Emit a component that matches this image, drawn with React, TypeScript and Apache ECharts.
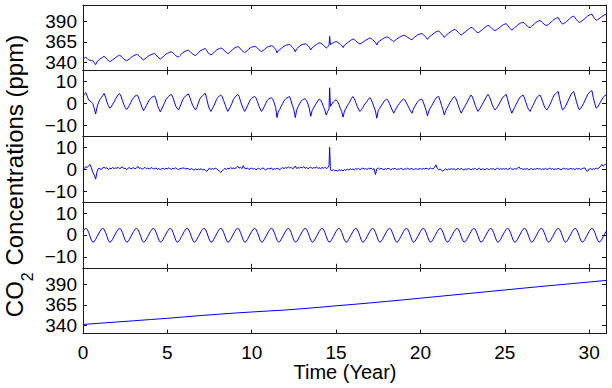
import React, { useEffect, useRef } from "react";
import * as echarts from "echarts";

// ---- data (monthly samples, 12 per year, x = years since start) ----
const samplesPerYear = 12;
const xTicks = [0, 5, 10, 15, 20, 25, 30];
const ppmTicks = [340, 365, 390];
const anomalyTicks = [-10, 0, 10];

const rawCO2 = [
  344.0, 345.5, 346.3, 344.8, 343.1, 342.8, 342.4, 341.9, 339.8, 337.3, 340.7, 342.8,
  344.3, 345.2, 346.4, 347.5, 346.0, 343.9, 342.4, 341.3, 341.9, 343.2, 344.4, 345.8,
  347.0, 348.1, 348.9, 347.8, 346.0, 344.2, 343.0, 342.2, 343.1, 344.3, 345.8, 347.2,
  348.1, 349.0, 349.6, 349.5, 347.9, 346.1, 344.5, 343.1, 344.3, 345.6, 347.1, 348.4,
  349.2, 350.0, 350.5, 350.9, 349.3, 346.8, 345.4, 344.1, 345.5, 347.0, 348.7, 350.2,
  351.1, 351.9, 352.7, 353.0, 351.7, 349.9, 348.2, 347.2, 346.7, 348.4, 350.1, 352.0,
  353.0, 353.8, 354.5, 355.0, 353.6, 351.8, 350.3, 349.2, 348.4, 349.7, 351.7, 353.8,
  354.8, 355.6, 356.4, 357.0, 354.6, 351.9, 350.1, 349.2, 350.5, 351.8, 353.5, 355.2,
  356.2, 357.0, 357.6, 356.9, 355.3, 353.6, 352.1, 350.7, 351.9, 353.3, 354.9, 356.7,
  357.7, 358.6, 359.3, 358.5, 356.5, 354.7, 353.3, 352.1, 353.4, 354.9, 356.4, 357.9,
  358.6, 359.2, 359.6, 359.2, 357.6, 355.8, 354.4, 353.3, 354.4, 355.8, 357.3, 358.7,
  359.4, 359.9, 360.3, 359.7, 358.2, 356.1, 351.6, 354.7, 355.6, 357.1, 358.4, 359.9,
  360.6, 361.3, 361.8, 362.2, 360.3, 358.3, 356.6, 353.1, 356.7, 358.4, 359.7, 361.1,
  361.8, 362.3, 362.7, 362.0, 360.6, 358.5, 355.3, 358.0, 359.3, 360.6, 361.8, 363.0,
  363.9, 363.7, 362.6, 361.0, 359.5, 357.5, 359.2, 360.6, 361.8, 363.1, 364.1, 364.9,
  365.4, 364.8, 363.6, 361.9, 360.7, 358.2, 361.2, 362.5, 363.8, 365.0, 366.3, 367.7,
  368.6, 367.8, 366.3, 364.7, 363.4, 362.6, 363.5, 364.7, 365.9, 367.0, 367.9, 369.0,
  369.9, 369.2, 367.7, 366.1, 364.4, 361.3, 365.0, 366.1, 367.4, 368.4, 369.6, 370.5,
  371.1, 370.7, 369.4, 368.0, 366.7, 365.5, 366.9, 368.2, 369.5, 370.5, 371.6, 372.4,
  373.1, 372.8, 371.7, 370.6, 369.5, 368.4, 367.6, 369.6, 371.1, 372.3, 373.5, 374.3,
  374.8, 375.2, 374.1, 372.3, 370.7, 368.2, 370.6, 372.1, 373.3, 374.7, 376.0, 377.2,
  378.0, 378.4, 376.7, 374.7, 372.9, 370.6, 372.8, 374.2, 375.5, 376.9, 378.1, 379.2,
  380.2, 379.8, 378.3, 376.5, 374.9, 373.4, 374.8, 376.2, 377.5, 378.9, 380.3, 381.6,
  382.9, 382.2, 380.5, 378.7, 377.3, 376.2, 377.4, 378.6, 379.9, 381.3, 382.7, 383.9,
  385.2, 384.4, 382.9, 381.1, 379.9, 378.9, 379.7, 380.9, 382.1, 383.5, 384.8, 386.0,
  386.6, 387.4, 385.3, 382.9, 381.1, 379.4, 381.0, 382.4, 383.8, 385.3, 386.7, 387.8,
  388.4, 389.1, 387.9, 386.1, 384.3, 383.0, 382.4, 384.0, 385.4, 386.9, 388.5, 389.7,
  390.5, 391.1, 389.9, 388.3, 386.6, 385.5, 385.1, 386.2, 387.7, 389.2, 390.9, 392.5,
  393.3, 394.1, 394.7, 391.6, 388.9, 386.8, 387.5, 388.6, 390.0, 391.5, 393.1, 394.6,
  395.8, 396.5, 394.5, 392.1, 390.2, 388.7, 389.6, 390.7, 392.1, 393.6, 395.2, 396.7,
  397.7, 398.5, 398.9, 395.8, 393.3, 391.4, 392.1, 393.2, 394.6, 395.9, 397.1, 398.0,
  398.5,
];

const detrended = [
  3.0, 4.4, 5.0, 3.4, 1.6, 1.2, 0.6, 0.0, -2.2, -4.8, -1.6, 0.4,
  1.8, 2.6, 3.6, 4.6, 3.0, 0.8, -0.9, -2.1, -1.6, -0.4, 0.6, 1.9,
  3.0, 4.0, 4.6, 3.4, 1.5, -0.4, -1.8, -2.7, -1.9, -0.8, 0.5, 1.8,
  2.6, 3.4, 3.8, 3.6, 1.9, 0.0, -1.8, -3.3, -2.2, -1.0, 0.3, 1.5,
  2.2, 2.9, 3.2, 3.5, 1.8, -0.8, -2.4, -3.8, -2.5, -1.1, 0.4, 1.8,
  2.6, 3.3, 3.9, 4.1, 2.6, 0.7, -1.2, -2.3, -2.9, -1.4, 0.2, 1.9,
  2.8, 3.5, 4.0, 4.4, 2.8, 0.9, -0.8, -2.0, -2.9, -1.8, 0.1, 2.0,
  2.9, 3.6, 4.2, 4.7, 2.2, -0.6, -2.6, -3.6, -2.4, -1.2, 0.3, 1.9,
  2.8, 3.5, 3.9, 3.1, 1.4, -0.4, -2.1, -3.6, -2.5, -1.2, 0.2, 1.9,
  2.8, 3.6, 4.2, 3.3, 1.2, -0.7, -2.3, -3.6, -2.4, -1.0, 0.4, 1.8,
  2.4, 2.9, 3.2, 2.7, 1.0, -0.9, -2.4, -3.6, -2.6, -1.3, 0.1, 1.4,
  2.0, 2.4, 2.7, 2.0, 0.4, -1.8, -6.4, -3.4, -2.6, -1.2, 0.0, 1.4,
  2.0, 2.6, 2.9, 3.2, 1.2, -1.0, -2.8, -6.4, -3.0, -1.4, -0.2, 1.0,
  1.6, 2.0, 2.2, 1.4, -0.2, -2.4, -5.8, -3.2, -2.0, -0.9, 0.2, 1.2,
  2.0, 1.6, 0.4, -1.4, -3.0, -5.2, -3.6, -2.4, -1.3, -0.2, 0.7, 1.3,
  1.7, 1.0, -0.4, -2.2, -3.6, -6.2, -3.4, -2.2, -1.0, 0.0, 1.2, 2.4,
  3.2, 2.2, 0.6, -1.2, -2.6, -3.6, -2.8, -1.8, -0.7, 0.2, 1.0, 1.9,
  2.7, 1.8, 0.2, -1.6, -3.4, -6.7, -3.2, -2.2, -1.1, -0.2, 0.8, 1.6,
  2.0, 1.4, 0.0, -1.6, -3.0, -4.4, -3.2, -2.0, -0.9, 0.0, 0.9, 1.6,
  2.1, 1.6, 0.4, -0.9, -2.2, -3.4, -4.4, -2.6, -1.2, -0.2, 0.8, 1.5,
  1.8, 2.0, 0.8, -1.2, -3.0, -5.6, -3.4, -2.1, -1.0, 0.2, 1.3, 2.4,
  3.0, 3.2, 1.4, -0.8, -2.8, -5.2, -3.2, -2.0, -0.8, 0.4, 1.4, 2.4,
  3.2, 2.6, 1.0, -1.0, -2.8, -4.4, -3.2, -2.0, -0.8, 0.4, 1.6, 2.8,
  3.9, 3.0, 1.2, -0.8, -2.4, -3.6, -2.6, -1.6, -0.4, 0.8, 2.0, 3.1,
  4.2, 3.2, 1.6, -0.4, -1.8, -2.9, -2.3, -1.3, -0.2, 1.0, 2.1, 3.2,
  3.6, 4.2, 2.0, -0.6, -2.6, -4.4, -3.0, -1.8, -0.5, 0.8, 2.0, 3.0,
  3.4, 3.9, 2.6, 0.6, -1.4, -2.8, -3.6, -2.2, -0.9, 0.4, 1.8, 2.9,
  3.5, 3.9, 2.6, 0.8, -1.0, -2.3, -2.9, -1.9, -0.6, 0.8, 2.3, 3.8,
  4.4, 5.0, 5.5, 2.2, -0.6, -2.9, -2.4, -1.4, -0.2, 1.2, 2.6, 4.0,
  5.0, 5.5, 3.4, 0.8, -1.2, -2.9, -2.2, -1.2, 0.0, 1.4, 2.8, 4.2,
  5.0, 5.6, 5.9, 2.6, 0.0, -2.1, -1.6, -0.6, 0.6, 1.8, 2.8, 3.6,
  3.9,
];

const residual = [
  -0.6, 0.4, 1.2, 0.8, 1.6, 2.2, 0.6, -1.4, -2.6, -4.5, -1.2, 0.4,
  0.3, -0.2, 0.6, 0.9, 0.4, 0.7, -0.1, 0.5, 0.2, 0.8, 0.3, 0.6,
  0.4, 0.9, 0.2, 0.6, 1.1, 0.3, 0.5, -0.2, 0.4, 0.8, 0.1, 0.5,
  0.7, 0.2, 0.5, 1.3, 0.4, 0.6, 0.0, 0.3, 0.9, 0.2, 0.5, 0.1,
  0.4, 0.8, 0.1, 0.3, 0.6, -0.1, 0.4, -0.3, 0.2, 0.5, 0.0, 0.4,
  0.2, 0.6, 0.3, -0.1, 0.5, 0.2, 0.7, 0.1, -0.2, 0.4, 0.3, 0.6,
  0.5, 0.1, 0.4, 0.2, -0.2, 0.3, 0.0, -0.4, 0.2, -0.3, 0.1, -0.2,
  0.3, -0.4, 0.1, -0.6, -0.9, -0.3, 0.6, -0.2, 0.4, 0.0, 0.5, 0.2,
  -0.3, -0.9, -1.5, -0.6, -0.2, 0.4, -0.1, 0.5, 0.1, 0.8, 0.3, 0.6,
  0.2, 0.7, 1.4, 0.5, 0.9, 0.3, 1.6, 0.4, 0.2, 0.6, -0.1, 0.3,
  0.5, 0.0, 0.4, -0.3, 0.2, 0.5, -0.2, 0.3, 0.6, 0.1, -0.3, 0.2,
  0.4, 0.1, 0.6, -0.2, 0.3, 0.0, 0.5, 0.2, -0.2, 0.4, 0.7, 0.3,
  0.8, 0.4, 1.1, 0.5, 0.9, 0.2, 0.6, 1.5, 0.3, 0.8, 0.5, 1.0,
  0.6, 1.2, 0.4, 0.9, 0.2, 0.7, 1.0, 0.3, 0.8, 0.5, 1.1, 0.4,
  0.7, 0.2, 0.9, 0.4, 1.0, 0.3, 0.6, 1.8, -0.3, -0.6, -0.2, -0.7,
  -0.4, -0.9, -0.2, -0.6, -0.3, -0.8, -0.1, -0.5, 0.0, -0.3, 0.2, -0.1,
  0.1, -0.3, 0.3, 0.0, 0.4, -0.2, 0.2, 0.5, 0.1, 0.3, -0.1, 0.4,
  0.2, 0.5, -0.1, 0.3, -2.4, 0.2, 0.6, 0.0, 0.4, 0.1, -0.2, 0.3,
  0.0, 0.4, 0.2, -0.3, 0.3, 0.1, 0.5, -0.2, 0.2, 0.0, 0.4, 0.1,
  -0.2, 0.3, 0.0, 0.5, -0.1, 0.2, 0.4, -0.3, 0.1, 0.3, -0.2, 0.2,
  0.3, -0.1, 0.4, 0.1, 0.5, 0.2, 0.0, 0.6, 0.3, 0.2, 0.8, 2.0,
  0.4, -0.2, 0.1, -0.5, -0.9, -0.2, 0.2, -0.4, 0.1, -0.1, 0.3, 0.0,
  0.2, -0.3, 0.1, 0.3, -0.2, 0.4, 0.0, -0.4, 0.2, -0.1, 0.3, 0.1,
  -0.3, 0.2, 0.0, 0.4, -0.2, 0.1, 0.5, -0.3, 0.2, 0.0, -0.2, 0.3,
  0.1, -0.2, 0.4, 0.0, 0.3, -0.3, 0.2, 0.5, -0.1, 0.2, 0.0, 0.3,
  0.0, 0.4, -0.2, 0.2, 0.6, 0.1, -0.1, 0.3, 0.0, 0.4, 1.1, 0.2,
  0.3, -0.1, 0.2, 0.0, 0.4, -0.3, 0.1, 0.3, -0.2, 0.2, 0.0, 0.4,
  0.1, 0.3, -0.2, 0.2, 0.0, 0.4, -0.1, 0.2, 0.5, 0.0, 0.3, -0.2,
  0.2, 0.0, 0.4, 0.1, -0.3, 0.2, 0.5, 0.0, 0.3, -0.1, 0.2, 0.4,
  0.0, 0.3, -0.2, 0.4, 0.1, 0.3, -0.1, 0.2, 0.5, 0.6, -0.6, -0.9,
  0.1, 0.4, -0.2, 0.3, 0.0, 0.5, 0.2, 0.6, 1.2, 2.2, 1.4, 2.0,
  2.2,
];

// one seasonal cycle, month 0 = start of each model year
const seasonalCycle = [1.6, 2.6, 3.0, 2.6, 1.2, -0.6, -2.4, -3.3, -3.0, -2.0, -0.8, 0.4];

// trend at whole years 0..31
const trendAnnual = [
  341.0, 342.5, 344.0, 345.5, 347.0, 348.5, 350.2, 351.9, 353.4, 354.9, 356.2,
  357.4, 358.6, 360.2, 361.9, 363.7, 365.4, 367.2, 369.1, 371.0, 373.0, 375.0,
  377.0, 379.0, 381.0, 383.0, 385.0, 387.0, 388.9, 390.8, 392.7, 394.6,
];

// single-week outlier
const spikeTime = 14.62;
const spikeRaw = 371.8;
const spikeDetrended = 7.2;
const spikeResidual = 10.0;

const FONT = '"Liberation Sans", Arial, Helvetica, sans-serif';
const BLUE = "#0000ff";
const AXIS = "#1a1a1a";

function toPoints(values: number[], spike?: number): [number, number][] {
  const pts: [number, number][] = [];
  values.forEach((v, i) => {
    const t = i / samplesPerYear;
    if (spike !== undefined && t > spikeTime && (i - 1) / samplesPerYear < spikeTime) {
      pts.push([spikeTime, spike]);
    }
    pts.push([t, v]);
  });
  return pts;
}

export default function App() {
  const ref = useRef<HTMLDivElement>(null);

  useEffect(() => {
    if (!ref.current) return;
    const chart = echarts.init(ref.current, undefined, { renderer: "svg" });

    const LEFT = 83;
    const RIGHT = 6;
    const TOP = 5;
    const PH = 65.7;

    const seasonalSeries = rawCO2.map((_, i) => seasonalCycle[i % seasonalCycle.length]);

    const panels = [
      { data: toPoints(rawCO2, spikeRaw), min: 330, max: 410, ticks: ppmTicks },
      { data: toPoints(detrended, spikeDetrended), min: -15, max: 15, ticks: anomalyTicks },
      { data: toPoints(residual, spikeResidual), min: -15, max: 15, ticks: anomalyTicks },
      { data: toPoints(seasonalSeries), min: -15, max: 15, ticks: anomalyTicks },
      { data: trendAnnual.map((v, k) => [k, v] as [number, number]), min: 330, max: 410, ticks: ppmTicks },
    ];

    const grids: any[] = [];
    const xAxes: any[] = [];
    const yAxes: any[] = [];
    const series: any[] = [];

    const fmt = (v: number) => (v < 0 ? "\u2212" + Math.abs(v) : String(v));

    panels.forEach((p, k) => {
      grids.push({ left: LEFT, right: RIGHT, top: TOP + k * PH, height: PH, containLabel: false });
      for (const pos of ["bottom", "top"]) {
        xAxes.push({
          gridIndex: k,
          type: "value",
          position: pos,
          min: 0,
          max: 31,
          axisLine: { show: true, onZero: false, lineStyle: { color: AXIS, width: 1 } },
          axisTick: { show: true, inside: true, length: 4, customValues: xTicks, lineStyle: { color: AXIS, width: 1 } },
          axisLabel: {
            show: pos === "bottom" && k === panels.length - 1,
            customValues: xTicks,
            fontSize: 19,
            fontFamily: FONT,
            color: "#000",
            margin: 9,
          },
          splitLine: { show: false },
        });
      }
      for (const pos of ["left", "right"]) {
        yAxes.push({
          gridIndex: k,
          type: "value",
          position: pos,
          min: p.min,
          max: p.max,
          axisLine: { show: true, onZero: false, lineStyle: { color: AXIS, width: 1 } },
          axisTick: { show: true, inside: true, length: 4, customValues: p.ticks, lineStyle: { color: AXIS, width: 1 } },
          axisLabel: {
            show: pos === "left",
            customValues: p.ticks,
            formatter: fmt,
            fontSize: 19,
            fontFamily: FONT,
            color: "#000",
            margin: 6,
          },
          splitLine: { show: false },
        });
      }
      series.push({
        type: "line",
        xAxisIndex: 2 * k,
        yAxisIndex: 2 * k,
        data: p.data,
        showSymbol: false,
        symbol: "none",
        lineStyle: { color: BLUE, width: 1 },
        clip: true,
      });
    });

    // measure the y title pieces
    const ctx = document.createElement("canvas").getContext("2d")!;
    const mainSize = 24;
    const subSize = 16;
    ctx.font = `${mainSize}px "Liberation Sans"`;
    const wCO = ctx.measureText("CO").width;
    const wRest = ctx.measureText(" Concentrations (ppm)").width;
    ctx.font = `${subSize}px "Liberation Sans"`;
    const w2 = ctx.measureText("2").width;
    const total = wCO + w2 + wRest;
    const x0 = -total / 2;

    const txt = (text: string, x: number, y: number, size: number) => ({
      type: "text",
      x,
      y,
      style: {
        text,
        fontSize: size,
        fontFamily: FONT,
        fill: "#000",
        textFill: "#000",
        align: "left",
        textAlign: "left",
        verticalAlign: "middle",
        textVerticalAlign: "middle",
      },
    });

    chart.setOption({
      animation: false,
      backgroundColor: "#fff",
      grid: grids,
      xAxis: xAxes,
      yAxis: yAxes,
      series,
      graphic: [
        {
          type: "group",
          x: 14,
          y: 176,
          rotation: Math.PI / 2,
          children: [
            txt("CO", x0, 0, mainSize),
            txt("2", x0 + wCO, 13, subSize),
            txt(" Concentrations (ppm)", x0 + wCO + w2, 0, mainSize),
          ],
        },
        {
          type: "text",
          x: 345,
          y: 372,
          style: {
            text: "Time (Year)",
            fontSize: 20,
            fontFamily: FONT,
            fill: "#000",
            textFill: "#000",
            align: "center",
            textAlign: "center",
            verticalAlign: "middle",
            textVerticalAlign: "middle",
          },
        },
      ],
    });

    return () => chart.dispose();
  }, []);

  return (
    <div
      ref={ref}
      style={{ position: "absolute", left: 0, top: 0, width: 612, height: 388, background: "#fff" }}
    />
  );
}
